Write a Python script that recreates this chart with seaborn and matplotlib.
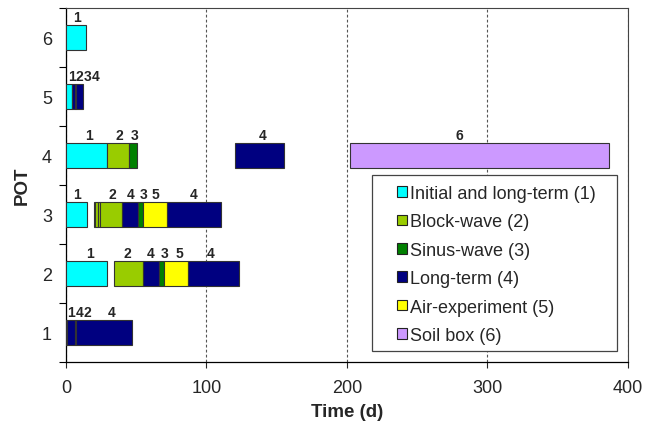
import numpy as np
import pandas as pd
import matplotlib
matplotlib.use("Agg")
import matplotlib.pyplot as plt
import matplotlib.patches as mpatches
import seaborn as sns

PHASES = ["Initial and long-term (1)", "Block-wave (2)", "Sinus-wave (3)",
          "Long-term (4)", "Air-experiment (5)", "Soil box (6)"]
PHASE_COLORS = ["#00ffff", "#99cc00", "#008000", "#000080", "#ffff00", "#cc99ff"]

# segments: pot, start day, end day, phase number
seg_pot = [1, 1, 1, 1,
           2, 2, 2, 2, 2, 2,
           3, 3, 3, 3, 3, 3, 3, 3, 3,
           4, 4, 4, 4, 4,
           5, 5, 5, 5, 5,
           6]
seg_start = [0, 1, 6.3, 7,
             0, 34.5, 55, 66.5, 70, 87,
             0, 20, 21, 22.5, 24.5, 40, 51, 55, 72,
             0, 29, 44.5, 120.3, 202,
             0, 4, 4.6, 6.2, 7.1,
             0]
seg_end = [1, 6.3, 7, 47,
           29, 55, 66.5, 70, 87, 123,
           15, 21, 22.5, 24.5, 40, 51, 55, 72, 110.5,
           29, 44.5, 50.5, 155.4, 386.5,
           4, 4.6, 6.2, 7.1, 12.3,
           14]
seg_phase = [1, 4, 2, 4,
             1, 2, 4, 3, 5, 4,
             1, 2, 2, 2, 2, 4, 3, 5, 4,
             1, 2, 3, 4, 6,
             1, 2, 4, 3, 4,
             1]

# phase labels above bars
lab_pot = [1, 1, 1, 1,
           2, 2, 2, 2, 2, 2,
           3, 3, 3, 3, 3, 3,
           4, 4, 4, 4, 4,
           5, 5, 5, 5,
           6]
lab_day = [3.9, 9.5, 15.1, 32.5,
           17, 44, 60.5, 70, 80.6, 103,
           8, 33, 46, 55, 64, 90.5,
           16.6, 38, 49, 140, 280,
           4.1, 9.7, 15.3, 20.9,
           8]
lab_text = ["1", "4", "2", "4",
            "1", "2", "4", "3", "5", "4",
            "1", "2", "4", "3", "5", "4",
            "1", "2", "3", "4", "6",
            "1", "2", "3", "4",
            "1"]

segs = pd.DataFrame({"pot": seg_pot, "start": seg_start, "end": seg_end, "phase": seg_phase})
labels = pd.DataFrame({"pot": lab_pot, "day": lab_day, "text": lab_text})

sns.set_style("ticks")
plt.rcParams["font.family"] = ["Liberation Sans", "DejaVu Sans"]

fig = plt.figure(figsize=(6.45, 4.27), dpi=100)
ax = fig.add_axes([0.1023, 0.1499, 0.8713, 0.829])

bar_h = 0.42
ax.barh(segs["pot"], segs["end"] - segs["start"], left=segs["start"], height=bar_h,
        color=[PHASE_COLORS[p - 1] for p in segs["phase"]],
        edgecolor="#333333", linewidth=0.8, zorder=3)

for _, r in labels.iterrows():
    ax.annotate(r["text"], (r["day"], r["pot"] + bar_h / 2), xytext=(0, 1),
                textcoords="offset points", ha="center", va="bottom",
                fontsize=10, fontweight="bold", zorder=4)

ax.set_xlim(0, 400)
ax.set_ylim(0.5, 6.5)
ax.set_xticks(np.arange(0, 401, 100))
ax.xaxis.grid(True, linestyle=(0, (2.5, 2)), color="#555555", linewidth=0.8, zorder=1)
ax.yaxis.grid(False)

ax.set_yticks(np.arange(0.5, 6.6, 1))
ax.set_yticklabels([])
ax.set_yticks(np.arange(1, 7), minor=True)
ax.set_yticklabels([str(i) for i in range(1, 7)], minor=True)
ax.tick_params(axis="y", which="major", direction="out", length=5, width=0.8, color="black")
ax.tick_params(axis="y", which="minor", length=0, pad=10, labelsize=13)
ax.tick_params(axis="x", direction="out", length=4.3, width=0.8, pad=8, labelsize=13)

for side in ["left", "bottom"]:
    ax.spines[side].set_color("black")
    ax.spines[side].set_linewidth(0.9)
for side in ["top", "right"]:
    ax.spines[side].set_color("#444444")
    ax.spines[side].set_linewidth(0.8)

ax.set_xlabel("Time (d)", fontsize=13.5, fontweight="bold", labelpad=5)
ax.set_ylabel("POT", fontsize=13.5, fontweight="bold", labelpad=8)

box = mpatches.Rectangle((0.5445, 0.030), 0.436, 0.499, transform=ax.transAxes,
                         facecolor="white", edgecolor="#444444", linewidth=0.9, zorder=5)
ax.add_patch(box)
handles = [mpatches.Patch(facecolor=c, edgecolor="#222222", linewidth=0.8) for c in PHASE_COLORS]
leg = ax.legend(handles, PHASES, loc="upper left", bbox_to_anchor=(0.5895, 0.500),
                frameon=False, fontsize=13, borderpad=0, borderaxespad=0,
                handlelength=0.53, handleheight=0.53, handletextpad=0.15,
                labelspacing=0.63)
leg.set_zorder(6)

fig.savefig("out.png", dpi=100)
